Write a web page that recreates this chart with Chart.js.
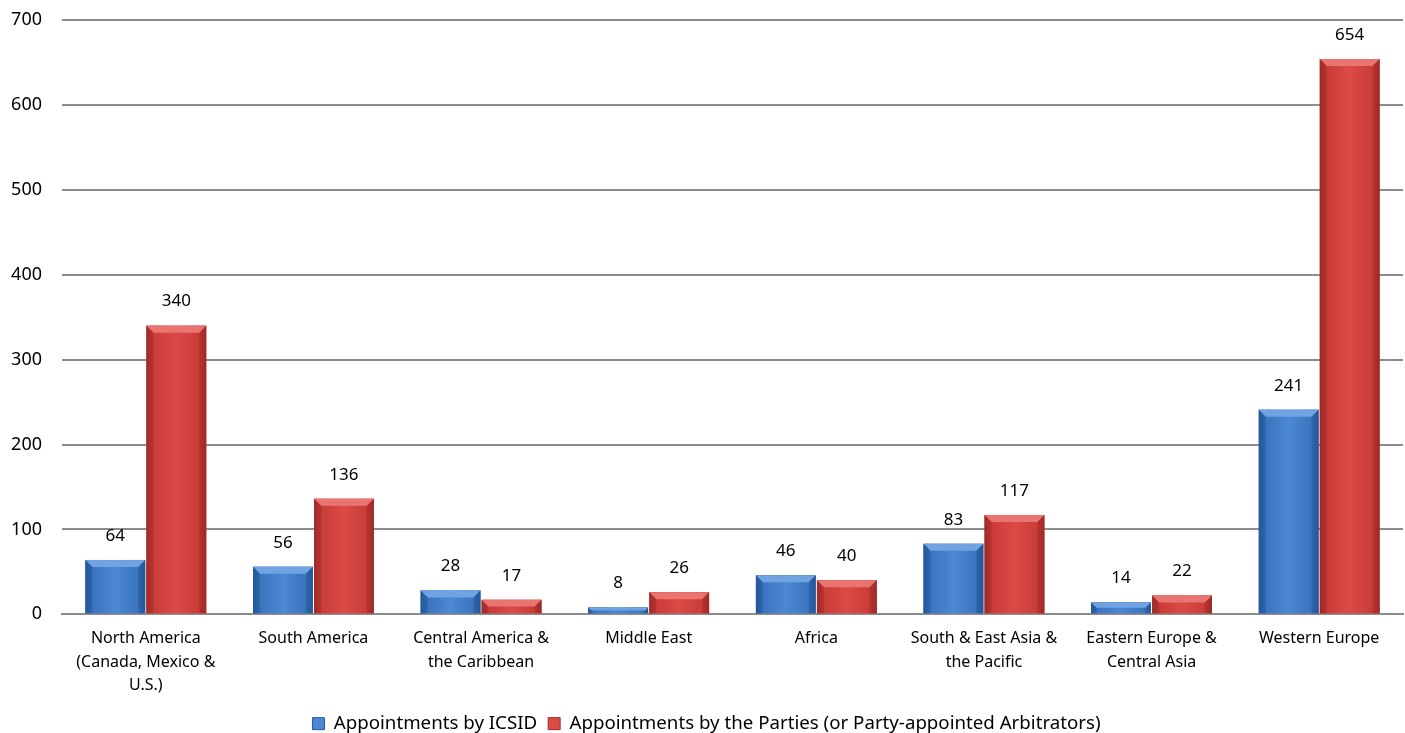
<!DOCTYPE html>
<html>
<head>
<meta charset="utf-8">
<script src="https://cdn.jsdelivr.net/npm/chart.js@4/dist/chart.umd.min.js"></script>
<style>
html,body{margin:0;padding:0;background:#fff;}
#wrap{width:1405px;height:733px;position:relative;}
</style>
</head>
<body>
<div id="wrap"><canvas id="c" width="1405" height="733"></canvas></div>
<script>
const categories = [
  ["North America", "(Canada, Mexico &", "U.S.)"],
  "South America",
  ["Central America &", "the Caribbean"],
  "Middle East",
  "Africa",
  ["South & East Asia &", "the Pacific"],
  ["Eastern Europe &", "Central Asia"],
  "Western Europe"
];
const icsidValues = [64, 56, 28, 8, 46, 83, 14, 241];
const partiesValues = [340, 136, 17, 26, 40, 117, 22, 654];
const seriesNames = ["Appointments by ICSID", "Appointments by the Parties (or Party-appointed Arbitrators)"];
const yTicks = [0, 100, 200, 300, 400, 500, 600, 700];

const FONT = "'Noto Sans', 'Open Sans', sans-serif";
const palettes = [
  {edge: '#24579a', mid: '#4c88d3', top: '#6fa3e2', base: '#3b74bf'},
  {edge: '#a02b28', mid: '#dc4a45', top: '#ea7470', base: '#c93c38'}
];

const bevelPlugin = {
  id: 'bevel',
  afterDatasetDraw(chart, args) {
    const ctx = chart.ctx;
    const meta = chart.getDatasetMeta(args.index);
    const p = palettes[args.index];
    meta.data.forEach(el => {
      const {x, y, base, width} = el.getProps(['x', 'y', 'base', 'width'], true);
      const l = x - width / 2, r = x + width / 2, t = Math.min(y, base), b = Math.max(y, base);
      const h = b - t;
      if (h <= 0) return;
      ctx.save();
      const g = ctx.createLinearGradient(l, 0, r, 0);
      g.addColorStop(0, p.edge);
      g.addColorStop(0.12, p.base);
      g.addColorStop(0.5, p.mid);
      g.addColorStop(0.88, p.base);
      g.addColorStop(1, p.edge);
      ctx.fillStyle = g;
      ctx.fillRect(l, t, width, h);
      const bv = Math.min(7, h / 2);
      ctx.fillStyle = p.top;
      ctx.beginPath();
      ctx.moveTo(l, t); ctx.lineTo(r, t); ctx.lineTo(r - bv, t + bv); ctx.lineTo(l + bv, t + bv); ctx.closePath();
      ctx.fill();
      ctx.fillStyle = p.edge;
      ctx.globalAlpha = 0.45;
      ctx.beginPath();
      ctx.moveTo(l, t); ctx.lineTo(l + bv, t + bv); ctx.lineTo(l + bv, b); ctx.lineTo(l, b); ctx.closePath();
      ctx.fill();
      ctx.beginPath();
      ctx.moveTo(r, t); ctx.lineTo(r - bv, t + bv); ctx.lineTo(r - bv, b); ctx.lineTo(r, b); ctx.closePath();
      ctx.fill();
      ctx.restore();
    });
  }
};

const labelPlugin = {
  id: 'valueLabels',
  afterDatasetsDraw(chart) {
    const ctx = chart.ctx;
    ctx.save();
    ctx.font = '17px ' + FONT;
    ctx.fillStyle = '#000';
    ctx.textAlign = 'center';
    ctx.textBaseline = 'middle';
    chart.data.datasets.forEach((ds, i) => {
      chart.getDatasetMeta(i).data.forEach((el, j) => {
        const {x, y} = el.getProps(['x', 'y'], true);
        ctx.fillText(String(ds.data[j]), x, y - 24);
      });
    });
    ctx.restore();
  }
};

new Chart(document.getElementById('c'), {
  type: 'bar',
  data: {
    labels: categories,
    datasets: [
      {label: seriesNames[0], data: icsidValues, backgroundColor: '#3b74bf', borderWidth: 0},
      {label: seriesNames[1], data: partiesValues, backgroundColor: '#c93c38', borderWidth: 0}
    ]
  },
  options: {
    responsive: false,
    animation: false,
    devicePixelRatio: 1,
    layout: {padding: {top: 0, right: 2, left: 10, bottom: -10}},
    datasets: {bar: {categoryPercentage: 0.728, barPercentage: 0.98}},
    scales: {
      x: {
        grid: {display: false, drawTicks: false},
        border: {display: true, color: '#8c8c8c', width: 2},
        ticks: {color: '#000', font: {size: 16, family: FONT, lineHeight: 1.45}, padding: 13, maxRotation: 0, autoSkip: false},
        afterFit(axis) { axis.height = 89; axis.paddingBottom = 0; }
      },
      y: {
        min: 0, max: 700,
        afterBuildTicks(axis) { axis.ticks = yTicks.map(v => ({value: v})); },
        afterFit(axis) { axis.width = 52; axis.paddingTop = 20; axis.paddingBottom = 0; },
        grid: {color: '#8c8c8c', lineWidth: 2, drawTicks: false},
        border: {display: false},
        ticks: {color: '#000', font: {size: 18, family: FONT}, padding: 20}
      }
    },
    plugins: {
      legend: {
        position: 'bottom',
        labels: {
          color: '#000',
          font: {size: 18.7, family: FONT},
          boxWidth: 12, boxHeight: 12, padding: 11,
          generateLabels(chart) {
            return chart.data.datasets.map((ds, i) => ({
              text: ds.label, fillStyle: palettes[i].mid, strokeStyle: palettes[i].edge, lineWidth: 1, datasetIndex: i, hidden: false
            }));
          }
        }
      },
      tooltip: {enabled: false}
    }
  },
  plugins: [bevelPlugin, labelPlugin]
});
</script>
</body>
</html>
